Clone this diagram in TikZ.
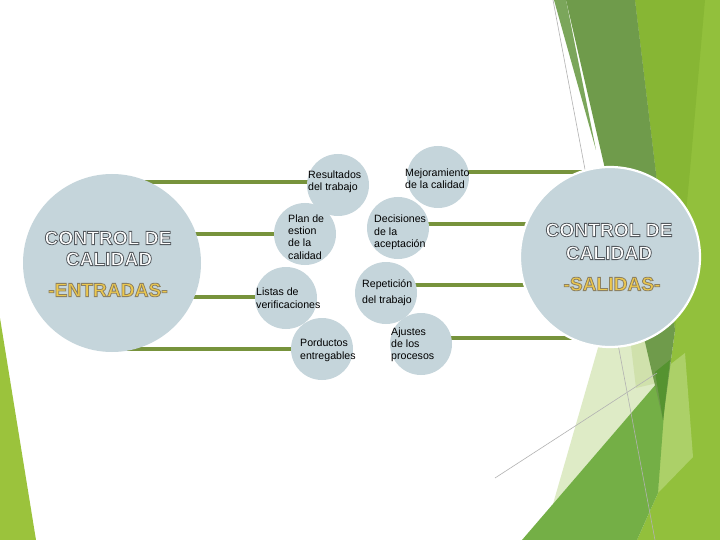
\documentclass[tikz,border=0pt]{standalone}
\usepackage{fontspec}
\setmainfont{Liberation Sans}
\definecolor{bub}{RGB}{197,213,219}
\definecolor{conn}{RGB}{119,147,60}
\definecolor{gold}{RGB}{236,200,78}
\definecolor{ygbase}{RGB}{146,192,60}
\definecolor{ygtop}{RGB}{135,182,52}
\definecolor{lstrip}{RGB}{172,208,104}
\definecolor{pale}{RGB}{222,235,198}
\definecolor{paleg}{RGB}{208,225,172}
\definecolor{medg}{RGB}{116,175,70}
\definecolor{darkg}{RGB}{111,155,75}
\definecolor{darkerg}{RGB}{85,147,48}
\definecolor{topstrip}{RGB}{123,166,91}
\definecolor{sliver}{RGB}{155,195,60}
\pgfdeclarelayer{deco}
\pgfdeclarelayer{links}
\pgfsetlayers{deco,links,main}
% outlined text: fill + stroke via PDF text render mode 2
\newcommand{\strokedtext}[2]{\special{pdf:literal direct 2 Tr 0.8 w #1 RG}#2\special{pdf:literal direct 0 Tr}}
\begin{document}
\begin{tikzpicture}[x=1pt,y=-1pt,
  bubble/.style={circle,fill=bub,minimum size=62pt,inner sep=0pt},
  bigbubble/.style={circle,fill=bub,minimum size=178pt,inner sep=0pt},
  connline/.style={draw=conn,line width=3.6pt},
  lbl/.style={anchor=base west,align=left,inner sep=0pt,text=black,
    font=\fontsize{10.6}{12.3}\selectfont},
  bigtxt/.style={inner sep=0pt,align=center,font=\fontsize{19.2}{21}\selectfont\bfseries},
  thinline/.style={draw=black!30,line width=0.6pt}]
\useasboundingbox (0,0) rectangle (720,540);
\begin{pgfonlayer}{deco}
\fill[white] (0,0) rectangle (720,540);
\fill[sliver] (0,318) -- (36,540) -- (0,540) -- cycle;
\fill[ygbase] (635,0) -- (720,0) -- (720,540) -- (637,540) -- (658,493) -- (663,420) -- (675,330) -- cycle;
\fill[ygtop] (635,0) -- (705,0) -- (690,170) -- (675,330) -- cycle;
\fill[lstrip] (667,367) -- (685,353) -- (693,457) -- (658,493) -- (662,417) -- cycle;
\fill[pale] (606,320) -- (648,320) -- (657,383) -- (553,504) -- cycle;
\fill[paleg] (628,320) -- (648,320) -- (657,383) -- (636,388) -- cycle;
\fill[medg] (522,540) -- (657,383) -- (665,400) -- (658,493) -- (637,540) -- cycle;
\fill[darkg] (566,0) -- (635,0) -- (675,330) -- (663,420) -- cycle;
\fill[darkerg] (655,372) -- (670,360) -- (663,420) -- cycle;
\fill[topstrip] (554,0) -- (566,0) -- (596,150) -- cycle;
\coordinate (g1) at (553,0);
\coordinate (g2) at (655,540);
\coordinate (g3) at (495,478);
\coordinate (g4) at (657,373);
\draw[thinline] (g1) -- (g2);
\draw[thinline] (g3) -- (g4);
\end{pgfonlayer}
% circles
\node[bigbubble] (L) at (112,263) {};
\node[bigbubble,minimum size=180pt,draw=white,line width=2.2pt] (R) at (610,257) {};
\node[bubble] (res) at (338,185) {};
\node[bubble] (plan) at (305,234) {};
\node[bubble] (lis) at (286,298) {};
\node[bubble] (por) at (322,349) {};
\node[bubble] (mej) at (438,177) {};
\node[bubble] (dec) at (398,228) {};
\node[bubble] (rep) at (386,293) {};
\node[bubble] (aju) at (421,344) {};
% connectors
\begin{pgfonlayer}{links}
\draw[connline] ([yshift=3pt]res.center) -- ([yshift=3pt]res.center -| L.center);
\draw[connline] (plan.center) -- (plan.center -| L.center);
\draw[connline] ([yshift=1pt]lis.center) -- ([yshift=1pt]lis.center -| L.center);
\draw[connline] (por.center) -- (por.center -| L.center);
\draw[connline] ([yshift=5pt]mej.center) -- ([yshift=5pt]mej.center -| R.center);
\draw[connline] ([yshift=4pt]dec.center) -- ([yshift=4pt]dec.center -| R.center);
\draw[connline] ([yshift=8pt]rep.center) -- ([yshift=8pt]rep.center -| R.center);
\draw[connline] ([yshift=6pt]aju.center) -- ([yshift=6pt]aju.center -| R.center);
\end{pgfonlayer}
% labels (anchor = baseline of last line)
\node[lbl] (tres) at (308,191) {Resultados\\del trabajo};
\node[lbl] (tmej) at (405,189) {Mejoramiento\\de la calidad};
\node[lbl] (tplan) at (288,259) {Plan de\\estion\\de la\\calidad};
\node[lbl] (tdec) at (374,247.5) {Decisiones\\de la\\aceptación};
\node[lbl] (tlis) at (256,308) {Listas de\\verificaciones};
\node[lbl,font=\fontsize{10.6}{16}\selectfont] (trep) at (362,303) {Repetición\\del trabajo};
\node[lbl] (tpor) at (300,359) {Porductos\\entregables};
\node[lbl,font=\fontsize{10.6}{11.6}\selectfont] (taju) at (391,359) {Ajustes\\de los\\procesos};
% big texts
\node[bigtxt,text=white] (lt1) at (108,238) {\strokedtext{0.33 0.35 0.37}{CONTROL DE}};
\node[bigtxt,text=white] (lt2) at (109,259) {\strokedtext{0.33 0.35 0.37}{CALIDAD}};
\node[bigtxt,text=gold] (lt3) at (108,290) {\strokedtext{0.55 0.5 0.38}{-ENTRADAS-}};
\node[bigtxt,text=white] (rt1) at (609,230) {\strokedtext{0.33 0.35 0.37}{CONTROL DE}};
\node[bigtxt,text=white] (rt2) at (609,253) {\strokedtext{0.33 0.35 0.37}{CALIDAD}};
\node[bigtxt,text=gold] (rt3) at (612,284) {\strokedtext{0.55 0.5 0.38}{-SALIDAS-}};
\end{tikzpicture}
\end{document}
